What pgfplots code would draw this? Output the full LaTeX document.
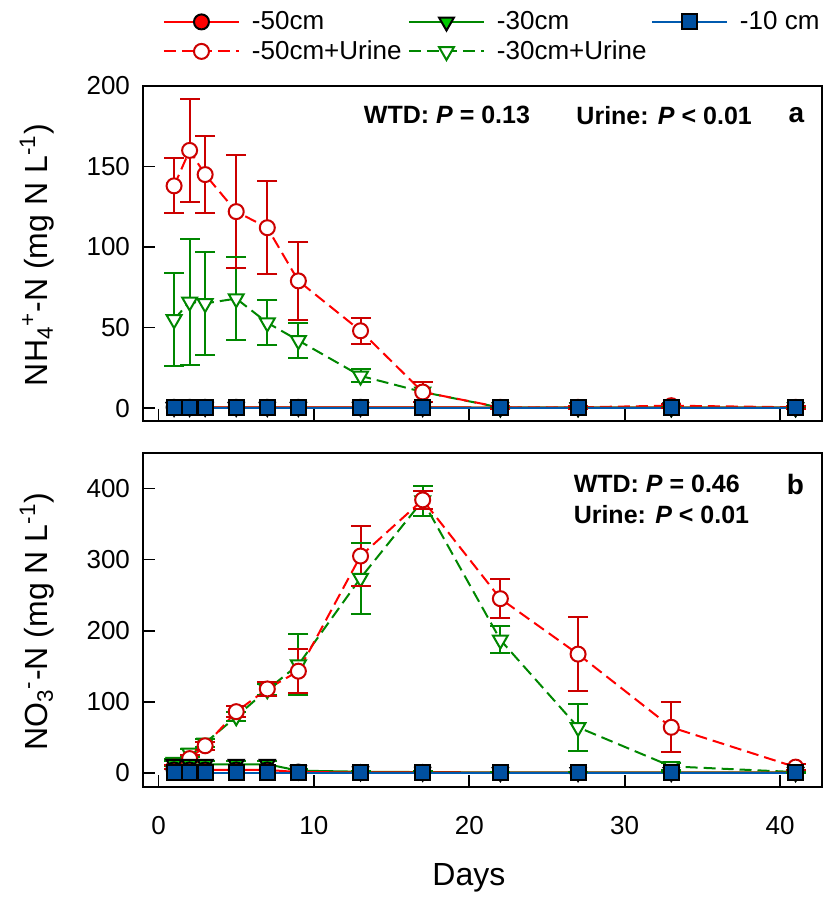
\documentclass[border=0pt]{standalone}
\usepackage{fontspec}
\setmainfont{Liberation Sans}
\usepackage{pgfplots}
\pgfplotsset{compat=1.18}
\usepackage{pgfplotstable}

\definecolor{redl}{RGB}{255,0,0}
\definecolor{dkred}{RGB}{204,0,0}
\definecolor{grn}{RGB}{0,135,0}
\definecolor{grnfill}{RGB}{0,200,0}
\definecolor{blul}{RGB}{0,90,175}
\definecolor{blufill}{RGB}{0,80,160}

% Panel a: NH4+-N
\pgfplotstableread{
day u50 eu50 u30 eu30 c50 ec50 c30 ec30 c10
1  138 17 55 29 0.5 0.3 0.5 0.3 0.3
2  160 32 66 39 0.5 0.3 0.5 0.3 0.3
3  145 24 65 32 0.5 0.3 0.5 0.3 0.3
5  122 35 68 26 0.5 0.3 0.5 0.3 0.3
7  112 29 53 14 0.5 0.3 0.5 0.3 0.3
9  79  24 42 11 0.5 0.3 0.5 0.3 0.3
13 48  8  20 4  0.5 0.3 0.5 0.3 0.3
17 10  6  10 6  0.5 0.3 0.5 0.3 0.3
22 0.5 1  0.3 0.5 0.3 0.3 0.3 0.3 0.3
27 0.5 1  0.3 0.5 0.3 0.3 0.3 0.3 0.3
33 1.5 1.2 0.3 0.5 0.3 0.3 0.3 0.3 0.3
41 0.5 1  0.3 0.5 0.3 0.3 0.3 0.3 0.3
}\dataA

% Panel b: NO3--N
\pgfplotstableread{
day u50 eu50 u30 eu30 c50 ec50 c30 ec30 c10
1  8   3  15  5  4   2   12  4   0.3
2  20  5  28  6  4   2   12  4   0.3
3  38  6  42  6  4   2   12  4   0.3
5  86  8  79  6  4   2   12  4   0.3
7  118 10 117 8  4   2   12  4   0.3
9  143 31 152 43 1   1   3   2   0.3
13 305 42 274 50 0.5 0.5 1.5 1   0.3
17 384 13 383 21 0.5 0.5 1   1   0.3
22 245 27 187 19 0.3 0.3 0.5 0.5 0.3
27 167 52 64  33 0.3 0.3 0.5 0.5 0.3
33 64  35 9   5  0.3 0.3 0.5 0.5 0.3
41 8   4  1   1  0.3 0.3 0.5 0.5 0.3
}\dataB

\pgfplotsset{
  common/.style={
    scale only axis, width=339.5pt,
    xmin=-1, xmax=42.7,
    xtick={0,10,20,30,40},
    tick align=inside, xtick pos=bottom, ytick pos=left,
    major tick length=6pt,
    every tick/.style={black, line width=0.9pt},
    axis line style={line width=1pt},
    /pgf/number format/assume math mode=true,
    ticklabel style={font=\fontsize{13}{15}\selectfont},
    yticklabel style={xshift=-3pt},
    xticklabel style={yshift=-11pt},
    every axis y label/.style={at={(axis description cs:-0.156,0.495)}, rotate=90, anchor=center, font=\fontsize{16}{19}\selectfont},
    every axis x label/.style={at={(axis description cs:0.48,-0.272)}, anchor=center, font=\fontsize{16}{19}\selectfont},
    clip=false,
  },
  errb/.style={error bars/.cd, y dir=both, y explicit,
    error mark=none,
    error bar style={#1, line width=1pt, solid}},
  cap/.style={only marks, mark=-, mark size=5pt, #1, mark options={solid, #1, line width=1pt}},
  u50/.style={redl, line width=1pt, dash pattern=on 6pt off 3pt,
    mark=*, mark size=3.75pt, mark options={solid, draw=dkred, fill=white, line width=1pt}},
  u30/.style={grn, line width=1pt, dash pattern=on 6pt off 3pt,
    mark=triangle*, mark size=4.3pt, mark options={solid, rotate=180, draw=grn, fill=white, line width=1pt}},
  c50/.style={redl, line width=1pt, solid,
    mark=*, mark size=3.75pt, mark options={solid, draw=black, fill=redl, line width=1pt}},
  c30/.style={grn, line width=1pt, solid,
    mark=triangle*, mark size=4.3pt, mark options={solid, rotate=180, draw=black, fill=grnfill, line width=1pt}},
  c10/.style={blul, line width=1pt, solid,
    mark=square*, mark size=3.75pt, mark options={solid, draw=black, fill=blufill, line width=1pt}},
}

\begin{document}
\begin{tikzpicture}
\path[use as bounding box] (0,0) rectangle (417pt,449pt);

% ---------- Panel a ----------
\begin{axis}[common,
  at={(71.5pt,238.5pt)}, anchor=south west, height=167.5pt,
  ymin=-8, ymax=200, ytick={0,50,100,150,200},
  xticklabels={},
  ylabel={NH\textsubscript{4}\textsuperscript{+}-N (mg N L\textsuperscript{-1})},
  legend columns=3,
  legend cell align=left,
  legend image code/.code={\draw[mark repeat=2,mark phase=2,#1] plot coordinates {(0pt,0pt) (18.75pt,0pt) (37.5pt,0pt)};},
  legend style={at={(axis description cs:0.02,1.236)}, anchor=north west,
    draw=none, fill=none, font=\fontsize{13}{15}\selectfont,
    nodes={inner sep=0pt}, row sep=4pt,
    /tikz/every odd column/.append style={column sep=6pt}},
]
\addlegendimage{c50}\addlegendentry{\makebox[78pt][l]{-50cm}}
\addlegendimage{c30}\addlegendentry{\makebox[77pt][l]{-30cm}}
\addlegendimage{c10}\addlegendentry{-10 cm}
\addlegendimage{u50}\addlegendentry{\makebox[78pt][l]{-50cm+Urine}}
\addlegendimage{u30}\addlegendentry{\makebox[77pt][l]{-30cm+Urine}}

% -30cm+Urine
\addplot[forget plot, grn, line width=1pt, draw=none, errb=grn] table[x=day, y=u30, y error=eu30] {\dataA};
\addplot[forget plot, cap=grn] table[x=day, y expr=\thisrow{u30}+\thisrow{eu30}] {\dataA};
\addplot[forget plot, cap=grn] table[x=day, y expr=\thisrow{u30}-\thisrow{eu30}] {\dataA};
\addplot[forget plot, u30] table[x=day, y=u30] {\dataA};
% -50cm+Urine
\addplot[forget plot, dkred, draw=none, errb=dkred] table[x=day, y=u50, y error=eu50] {\dataA};
\addplot[forget plot, cap=dkred] table[x=day, y expr=\thisrow{u50}+\thisrow{eu50}] {\dataA};
\addplot[forget plot, cap=dkred] table[x=day, y expr=\thisrow{u50}-\thisrow{eu50}] {\dataA};
\addplot[forget plot, u50] table[x=day, y=u50] {\dataA};
% controls
\addplot[forget plot, c30] table[x=day, y=c30] {\dataA};
\addplot[forget plot, c50] table[x=day, y=c50] {\dataA};
\addplot[forget plot, c10] table[x=day, y=c10] {\dataA};

\node[anchor=west, font=\fontsize{12.5}{15}\selectfont\bfseries] at (axis description cs:0.315,0.913) {WTD: \textit{P} = 0.13};
\node[anchor=west, font=\fontsize{12.5}{15}\selectfont\bfseries] at (axis description cs:0.628,0.913) {Urine: \textit{P} < 0.01};
\node[anchor=east, font=\fontsize{14}{16}\selectfont\bfseries] at (axis description cs:0.984,0.913) {a};
\end{axis}

% ---------- Panel b ----------
\begin{axis}[common,
  at={(71.5pt,55.5pt)}, anchor=south west, height=167pt,
  ymin=-20, ymax=450, ytick={0,100,200,300,400},
  xlabel={Days},
  ylabel={NO\textsubscript{3}\textsuperscript{-}-N (mg N L\textsuperscript{-1})},
]
% -30cm+Urine
\addplot[grn, draw=none, errb=grn] table[x=day, y=u30, y error=eu30] {\dataB};
\addplot[cap=grn] table[x=day, y expr=\thisrow{u30}+\thisrow{eu30}] {\dataB};
\addplot[cap=grn] table[x=day, y expr=\thisrow{u30}-\thisrow{eu30}] {\dataB};
\addplot[u30] table[x=day, y=u30] {\dataB};
% -50cm+Urine
\addplot[dkred, draw=none, errb=dkred] table[x=day, y=u50, y error=eu50] {\dataB};
\addplot[cap=dkred] table[x=day, y expr=\thisrow{u50}+\thisrow{eu50}] {\dataB};
\addplot[cap=dkred] table[x=day, y expr=\thisrow{u50}-\thisrow{eu50}] {\dataB};
\addplot[u50] table[x=day, y=u50] {\dataB};
% controls
\addplot[grn, draw=none, errb=grn] table[x=day, y=c30, y error=ec30] {\dataB};
\addplot[cap=grn] table[x=day, y expr=\thisrow{c30}+\thisrow{ec30}] {\dataB};
\addplot[c30] table[x=day, y=c30] {\dataB};
\addplot[dkred, draw=none, errb=dkred] table[x=day, y=c50, y error=ec50] {\dataB};
\addplot[c50] table[x=day, y=c50] {\dataB};
\addplot[c10] table[x=day, y=c10] {\dataB};

\node[anchor=west, font=\fontsize{12.5}{15}\selectfont\bfseries] at (axis description cs:0.624,0.907) {WTD: \textit{P} = 0.46};
\node[anchor=west, font=\fontsize{12.5}{15}\selectfont\bfseries] at (axis description cs:0.624,0.817) {Urine: \textit{P} < 0.01};
\node[anchor=east, font=\fontsize{14}{16}\selectfont\bfseries] at (axis description cs:0.984,0.907) {b};
\end{axis}
\end{tikzpicture}
\end{document}
